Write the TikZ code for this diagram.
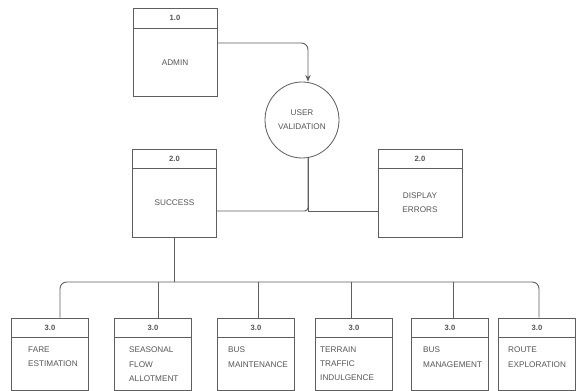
\documentclass[tikz,border=0pt]{standalone}
\usepackage{fontspec}
\setmainfont{Liberation Sans}
\usepackage{xcolor}
\usetikzlibrary{positioning, arrows.meta, calc, shapes.geometric}

\definecolor{linegray}{HTML}{5E5E5E}
\definecolor{txtgray}{HTML}{555555}

\begin{document}
\begin{tikzpicture}[
  proc/.style={draw=linegray, line width=0.7pt, minimum width=25.2mm, minimum height=26.4mm, inner sep=0pt},
  sub/.style={draw=linegray, line width=0.7pt, minimum width=23mm, minimum height=21.6mm, inner sep=0pt},
  pid/.style={font=\bfseries\fontsize{6.5}{7}\selectfont, text=txtgray, inner sep=0pt},
  lbl/.style={font=\fontsize{7}{12}\selectfont, text=txtgray, align=center, inner sep=0pt},
  sublbl/.style={font=\fontsize{7}{12}\selectfont, text=txtgray, align=left, anchor=north west, inner sep=0pt},
  val/.style={draw=linegray, line width=0.7pt, ellipse, minimum width=22.2mm, minimum height=22.8mm, inner sep=0pt},
  hdr/.style={draw=linegray, line width=0.7pt},
  arr/.style={-{Stealth[length=2mm, width=1.6mm]}, draw=linegray, line width=0.8pt},
  flow/.style={draw=linegray, line width=0.8pt},
]
\useasboundingbox (0,0) rectangle (173.1mm,-117.3mm);

% --- Top level ---
\node[proc] (admin) at (52.5mm,-15.75mm) {};
\node[val] (uval) at (90.6mm,-36mm) {};
\node[lbl] (uvaltxt) at (uval.center) {USER\\VALIDATION};

% --- Level 2 ---
\node[proc] (succ) at (52.35mm,-57.9mm) {};
\node[proc] (disp) at (126mm,-57.9mm) {};

% headers and labels of the upper boxes
\foreach \b/\i/\t in {admin/1.0/ADMIN, succ/2.0/SUCCESS, disp/2.0/{DISPLAY\\ERRORS}} {
  \draw[hdr] ([yshift=-6mm]\b.north west) -- ([yshift=-6mm]\b.north east);
  \node[pid] (\b id) at ([yshift=-3mm]\b.north) {\i};
  \node[lbl] (\b txt) at ([yshift=-3mm]\b.center) {\t};
}

\draw[arr, rounded corners=2mm] ([yshift=2.85mm]admin.east) -| ([xshift=1.8mm]uval.north);
\draw[flow, rounded corners=1mm] ([xshift=1.8mm]uval.south) |- ([yshift=-5.4mm]succ.east);
\draw[flow] ([xshift=1.8mm]uval.south) |- ([yshift=-5.4mm]disp.west);

% --- Level 3 ---
\coordinate (bus) at (0,-84.6mm);
\draw[flow] (succ.south) -- (succ.south |- bus);

\foreach \n/\cx/\lx/\tx/\t in {
  fare/15/18/8.4/{FARE\\ESTIMATION},
  flow/45.9/47.4/38.7/{SEASONAL\\FLOW\\ALLOTMENT},
  maint/76.8/77.4/68.4/{BUS\\MAINTENANCE},
  terr/106.2/105.3/96/{TERRAIN\\TRAFFIC\\INDULGENCE},
  mgmt/135/135.9/126.9/{BUS\\MANAGEMENT},
  route/161.1/161.7/152.4/{ROUTE\\EXPLORATION}} {
  \node[sub] (\n) at (\cx mm,-106.2mm) {};
  \draw[hdr] ([yshift=-6mm]\n.north west) -- ([yshift=-6mm]\n.north east);
  \node[pid] (\n id) at ([yshift=-3mm]\n.north) {3.0};
  \node[sublbl] (\n txt) at (\tx mm,-104.1mm) {\t};
}

\draw[flow, rounded corners=2mm] ([xshift=3mm]fare.north) |- (bus -| succ.south) -| ([xshift=0.6mm]route.north);
\foreach \n/\dx in {flow/1.5, maint/0.6, terr/-0.9, mgmt/0.9} {
  \draw[flow] ([xshift=\dx mm]\n.north) -- ([xshift=\dx mm]\n.north |- bus);
}

\end{tikzpicture}
\end{document}
